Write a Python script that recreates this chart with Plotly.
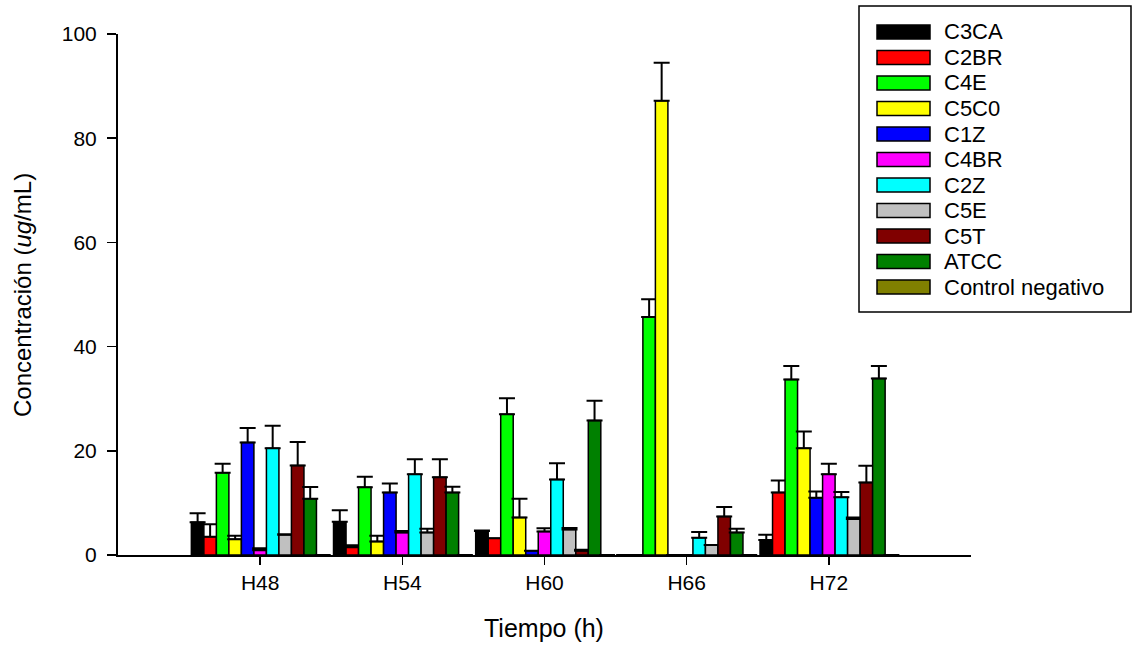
import plotly.graph_objects as go

categories = ["H48", "H54", "H60", "H66", "H72"]
series_names = ["C3CA", "C2BR", "C4E", "C5C0", "C1Z", "C4BR", "C2Z", "C5E", "C5T", "ATCC", "Control negativo"]
colors = ["#000000", "#FF0000", "#00FF00", "#FFFF00", "#0000FF", "#FF00FF",
          "#00FFFF", "#C0C0C0", "#800000", "#008000", "#808000"]

values = {
    "C3CA":  [6.3, 6.4, 4.6, 0.0, 2.9],
    "C2BR":  [3.5, 1.5, 3.2, 0.0, 12.0],
    "C4E":   [15.8, 13.0, 27.0, 45.7, 33.7],
    "C5C0":  [3.0, 2.6, 7.2, 87.2, 20.5],
    "C1Z":   [21.6, 12.0, 0.8, 0.0, 11.0],
    "C4BR":  [0.9, 4.3, 4.5, 0.0, 15.5],
    "C2Z":   [20.5, 15.5, 14.5, 3.3, 11.1],
    "C5E":   [3.9, 4.3, 4.9, 1.9, 6.9],
    "C5T":   [17.2, 14.9, 0.8, 7.4, 13.9],
    "ATCC":  [10.8, 12.0, 25.8, 4.3, 33.9],
    "Control negativo": [0.0, 0.0, 0.0, 0.0, 0.0],
}

errors = {
    "C3CA":  [1.7, 2.2, 0.1, None, 1.0],
    "C2BR":  [2.4, 0.35, None, None, 2.3],
    "C4E":   [1.7, 2.0, 3.1, 3.4, 2.6],
    "C5C0":  [0.7, 1.1, 3.6, 7.3, 3.2],
    "C1Z":   [2.8, 1.7, None, None, 1.2],
    "C4BR":  [0.4, 0.3, 0.65, None, 2.0],
    "C2Z":   [4.3, 2.9, 3.1, 1.1, 1.0],
    "C5E":   [0.1, 0.75, 0.3, None, 0.3],
    "C5T":   [4.5, 3.5, 0.2, 1.8, 3.25],
    "ATCC":  [2.25, 1.1, 3.8, 0.75, 2.4],
    "Control negativo": [None, None, None, None, None],
}

y_ticks = [0, 20, 40, 60, 80, 100]
x_title = "Tiempo (h)"
y_title = "Concentración (<i>ug</i>/mL)"

FONT = "Liberation Sans, Arial, sans-serif"

fig = go.Figure()
for name, col in zip(series_names, colors):
    err = errors[name]
    fig.add_trace(go.Bar(
        x=categories, y=values[name], name=name,
        marker=dict(color=col, line=dict(color="#000000", width=1.5)),
        error_y=dict(type="data", symmetric=False, array=err,
                     arrayminus=[0 if e is not None else None for e in err],
                     color="#000000", thickness=2, width=8),
        showlegend=False,
    ))

# plot area in pixels: x 118..971, y 34..555
L, R, T, B = 118, 971, 34, 555
W, H = 1134, 645
pw, ph = R - L, B - T

def px_x(p):
    return (p - L) / pw

def px_y(p):
    return (B - p) / ph

shapes = []
annotations = []
# legend box
shapes.append(dict(type="rect", xref="paper", yref="paper",
                   x0=px_x(859), x1=px_x(1131), y0=px_y(312), y1=px_y(6),
                   line=dict(color="#000000", width=1.5), fillcolor="white", layer="above"))
row0, step = 32, 25.5
for i, (name, col) in enumerate(zip(series_names, colors)):
    yc = row0 + step * i
    shapes.append(dict(type="rect", xref="paper", yref="paper",
                       x0=px_x(877), x1=px_x(930), y0=px_y(yc + 7), y1=px_y(yc - 7),
                       line=dict(color="#000000", width=1.5), fillcolor=col, layer="above"))
    annotations.append(dict(xref="paper", yref="paper", x=px_x(942), y=px_y(yc),
                            text=name, showarrow=False, xanchor="left", yanchor="middle",
                            font=dict(family=FONT, size=22, color="#000000")))

annotations.append(dict(xref="paper", yref="paper", x=px_x(544), y=px_y(628),
                        text=x_title, showarrow=False, xanchor="center", yanchor="middle",
                        font=dict(family=FONT, size=25, color="#000000")))
annotations.append(dict(xref="paper", yref="paper", x=px_x(22), y=px_y(295),
                        text=y_title, showarrow=False, xanchor="center", yanchor="middle",
                        textangle=-90,
                        font=dict(family=FONT, size=24, color="#000000")))

fig.update_layout(
    width=W, height=H,
    margin=dict(l=L, r=W - R, t=T, b=H - B, pad=0),
    paper_bgcolor="white", plot_bgcolor="white",
    barmode="group", bargap=0.032, bargroupgap=0,
    font=dict(family=FONT, size=21, color="#000000"),
    shapes=shapes, annotations=annotations,
    xaxis=dict(type="category", range=[-1, 5], showgrid=False, zeroline=False,
               showline=True, linecolor="#000000", linewidth=2,
               ticks="outside", ticklen=8, tickwidth=1.5, tickcolor="#000000",
               tickfont=dict(family=FONT, size=21), fixedrange=True),
    yaxis=dict(range=[0, 100], tickvals=y_ticks, showgrid=False, zeroline=False,
               showline=True, linecolor="#000000", linewidth=2,
               ticks="outside", ticklen=9, tickwidth=1.5, tickcolor="#000000",
               tickfont=dict(family=FONT, size=21), ticklabelstandoff=6, fixedrange=True),
)

fig.write_html("out.html",
               config={"displayModeBar": False, "staticPlot": True},
               post_script="document.body.style.margin='0px';document.body.style.padding='0px';")
